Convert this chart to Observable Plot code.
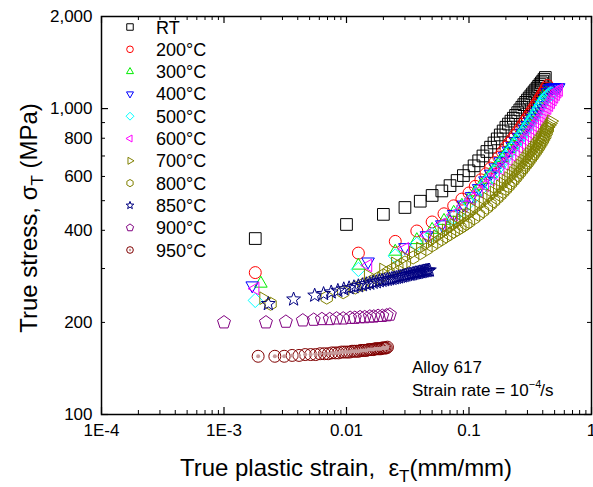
<!DOCTYPE html>
<html><head><meta charset="utf-8">
<script src="https://cdn.jsdelivr.net/npm/d3@7"></script>
<script src="https://cdn.jsdelivr.net/npm/@observablehq/plot@0.6"></script>
<style>
body{margin:0;background:#fff}
svg{font-family:"Liberation Sans",Arial,sans-serif}
</style>
</head><body><div id="chart"></div>
<script>
// ---------- data ----------
const seriesNames = ["RT","200°C","300°C","400°C","500°C","600°C","700°C","800°C","850°C","900°C","950°C"];
const seriesColors = ["#000000","#ff0000","#00ee00","#0000ff","#00ffff","#ff00ff","#808000","#808000","#000080","#800080","#800000"];

const xTickValues = [1e-4, 1e-3, 0.01, 0.1, 1];
const xTickLabels = ["1E-4", "1E-3", "0.01", "0.1", "1"];
const yTickValues = [100, 200, 400, 600, 800, 1000, 2000];
const yTickLabels = ["100", "200", "400", "600", "800", "1,000", "2,000"];

const strainRT = [0.0018,0.01,0.02,0.03,0.04,0.05,0.06,0.07,0.08,0.09,0.10,0.11,0.12,0.13,0.14,0.15,0.16,0.17,0.18,0.19,0.20,0.21,0.22,0.23,0.24,0.25,0.26,0.27,0.28,0.29,0.30,0.31,0.32,0.33,0.34,0.35,0.36,0.37,0.38,0.39,0.40,0.41,0.42];
const stressRT = [376,418,451,475,498,520,538,560,582,604,626,650,675,700,724,748,772,796,820,845,869,890,910,930,950,970,990,1010,1030,1048,1066,1083,1100,1117,1134,1150,1166,1182,1198,1214,1230,1247,1264];

const strain200 = [0.0018,0.0125,0.025,0.0375,0.05,0.0625,0.075,0.0875,0.1,0.1125,0.125,0.1375,0.15,0.1625,0.175,0.1875,0.2,0.2125,0.225,0.2375,0.25,0.2625,0.275,0.2875,0.3,0.3125,0.325,0.3375,0.35,0.3625,0.375,0.3875,0.4,0.4125,0.425,0.4375];
const stress200 = [291,337,368,398,426,453,481,506,530,557,585,612,639,666,694,721,748,771,794,818,841,864,888,911,934,957,981,1004,1027,1050,1074,1097,1120,1143,1167,1190];

const strain300 = [0.002,0.0125,0.025,0.0375,0.05,0.0625,0.075,0.0875,0.1,0.1125,0.125,0.1375,0.15,0.1625,0.175,0.1875,0.2,0.2125,0.225,0.2375,0.25,0.2625,0.275,0.2875,0.3,0.3125,0.325,0.3375,0.35,0.3625,0.375,0.3875,0.4,0.4125,0.425];
const stress300 = [268,307,341,372,402,430,457,482,506,533,560,586,612,638,664,690,716,739,762,785,808,831,854,877,900,923,946,969,992,1015,1038,1061,1084,1107,1130];

const strain400 = [0.0017,0.015,0.03,0.045,0.06,0.075,0.09,0.105,0.12,0.135,0.15,0.165,0.18,0.195,0.21,0.225,0.24,0.255,0.27,0.285,0.3,0.315,0.33,0.345,0.36,0.375,0.39,0.405,0.42,0.435,0.45,0.465,0.48,0.495,0.51,0.525,0.54];
const stress400 = [264,316,352,385,418,452,485,517,549,582,612,642,672,700,728,755,782,808,834,858,882,906,930,954,978,1002,1026,1052,1085,1130,1160,1168,1170,1172,1172,1173,1173];

const strain500 = [0.0018,0.0125,0.025,0.0375,0.05,0.0625,0.075,0.0875,0.1,0.1125,0.125,0.1375,0.15,0.1625,0.175,0.1875,0.2,0.2125,0.225,0.2375,0.25,0.2625,0.275,0.2875,0.3,0.3125,0.325,0.3375,0.35,0.3625,0.375,0.3875,0.4,0.4125,0.425,0.4375,0.45,0.4625,0.475];
const stress500 = [236,298,330,360,388,415,442,468,494,520,546,571,596,620,644,668,692,715,738,761,784,806,828,850,872,894,916,938,960,982,1004,1026,1048,1068,1086,1100,1110,1115,1118];

const strain600 = [0.0018,0.015,0.03,0.045,0.06,0.075,0.09,0.105,0.12,0.135,0.15,0.165,0.18,0.195,0.21,0.225,0.24,0.255,0.27,0.285,0.3,0.315,0.33,0.345,0.36,0.375,0.39,0.405,0.42,0.435,0.45,0.465,0.48,0.495,0.51,0.525,0.54];
const stress600 = [258,307,348,385,418,450,480,508,535,561,586,611,635,659,682,705,727,749,771,792,813,834,855,876,897,918,939,960,982,1004,1026,1048,1070,1092,1114,1135,1150];

const strain700 = [0.0021,0.015,0.02,0.025,0.03,0.035,0.04,0.045,0.05,0.055,0.06,0.065,0.07,0.075,0.08,0.085,0.09,0.095,0.1,0.11,0.12,0.13,0.14,0.15,0.16,0.17,0.18,0.19,0.2,0.21,0.22,0.23,0.24,0.25,0.26,0.27,0.28,0.29,0.3,0.31,0.32,0.33,0.34,0.35,0.36,0.37,0.38,0.39,0.4,0.41,0.42,0.43,0.44,0.45,0.46,0.47];
const stress700 = [240,285,298,312,326,338,349,360,371,382,391,400,409,417,425,433,440,447,454,468,482,495,508,520,532,545,557,569,581,593,605,617,629,641,653,665,677,689,700,712,723,735,747,759,771,783,795,807,820,833,846,858,870,882,894,910];

const strain800 = [0.0024,0.0069,0.0094,0.0118,0.0137,0.016,0.018,0.02,0.022,0.024,0.026,0.028,0.03,0.035,0.04,0.045,0.05,0.055,0.06,0.065,0.07,0.075,0.08,0.085,0.09,0.095,0.1,0.11,0.12,0.13,0.14,0.15,0.16,0.17,0.18,0.19,0.2,0.21,0.22,0.23,0.24,0.25,0.26,0.27,0.28,0.29,0.3,0.31,0.32,0.33,0.34,0.35,0.36,0.37,0.38,0.39,0.4,0.41,0.42,0.43,0.44];
const stress800 = [230,241,251,260,266,272,278,285,292,298,304,309,314,326,337,347,357,366,374,382,389,396,402,408,414,420,426,438,450,462,474,486,498,510,522,534,546,558,570,582,594,606,618,630,642,654,665,677,689,701,713,725,737,750,763,776,790,805,820,840,860];

const strain850 = [0.0023,0.0037,0.0055,0.0065,0.0075,0.0085,0.0095,0.0105,0.0115,0.0125,0.0135,0.0145,0.0155,0.0165,0.0175,0.0185,0.0195,0.0205,0.0215,0.0225,0.0235,0.0245,0.0255,0.0265,0.0275,0.0285,0.0295,0.0305,0.0315,0.0325,0.0335,0.0345,0.0355,0.0365,0.0375,0.0385,0.0395,0.0405,0.0415,0.0425,0.0435,0.0445,0.0455,0.0465,0.0475];
const stress850 = [230,238,245,248,251,254,257,259,261,263,265,267,268,270,271,273,274,275,276,277,278,279,280,281,282,283,284,285,286,287,287,288,289,290,290,291,292,292,293,294,294,295,295,296,296];

const strain900 = [0.001,0.0022,0.0032,0.0044,0.0054,0.0063,0.0073,0.0083,0.0094,0.0107,0.0117,0.0129,0.0141,0.0155,0.0167,0.0181,0.0196,0.0213,0.0226];
const stress900 = [200,200,201,203,204,205,205,206,206,207,207,208,208,209,209,210,210,211,212];

const strain950 = [0.0019,0.0026,0.0031,0.0036,0.0041,0.0046,0.0051,0.0056,0.0061,0.0066,0.0071,0.0076,0.0081,0.0086,0.0091,0.0096,0.0101,0.0106,0.0111,0.0116,0.0121,0.0126,0.0131,0.0136,0.0141,0.0146,0.0151,0.0156,0.0161,0.0166,0.0171,0.0176,0.0181,0.0186,0.0191,0.0196,0.0201,0.0206,0.0211,0.0216];
const stress950 = [155,155,155,156,156,157,157,157,158,158,158,159,159,159,160,160,160,160,161,161,161,161,162,162,162,162,163,163,163,163,164,164,164,164,164,165,165,165,165,166];

// ---------- symbols ----------
function ngon(c, n, r, a0) {
  for (let k = 0; k < n; k++) {
    const a = a0 + k * 2 * Math.PI / n;
    const px = r * Math.cos(a), py = r * Math.sin(a);
    if (k === 0) c.moveTo(px, py); else c.lineTo(px, py);
  }
  c.closePath();
}
const rad = s => Math.sqrt(s / Math.PI);
const D = Math.PI / 180;
const symSquare = {draw(c, s) { const r = rad(s) * 0.9; c.rect(-r, -r, 2 * r, 2 * r); }};
const symCircle = {draw(c, s) { const r = rad(s) * 0.92; c.moveTo(r, 0); c.arc(0, 0, r, 0, 2 * Math.PI); }};
const symUp = {draw(c, s) { ngon(c, 3, rad(s) * 1.12, -90 * D); }};
const symDown = {draw(c, s) { ngon(c, 3, rad(s) * 1.12, 90 * D); }};
const symLeft = {draw(c, s) { ngon(c, 3, rad(s) * 1.12, 180 * D); }};
const symRight = {draw(c, s) { ngon(c, 3, rad(s) * 1.12, 0); }};
const symDiamond = {draw(c, s) { ngon(c, 4, rad(s) * 1.1, -90 * D); }};
const symHex = {draw(c, s) { ngon(c, 6, rad(s) * 1.0, -90 * D); }};
const symPent = {draw(c, s) { ngon(c, 5, rad(s) * 1.05, -90 * D); }};
const symStar = {draw(c, s) {
  const R = rad(s) * 1.12, r = R * 0.42;
  for (let k = 0; k < 10; k++) {
    const a = -90 * D + k * Math.PI / 5, rr = k % 2 ? r : R;
    if (k === 0) c.moveTo(rr * Math.cos(a), rr * Math.sin(a)); else c.lineTo(rr * Math.cos(a), rr * Math.sin(a));
  }
  c.closePath();
}};
const seriesSymbols = [symSquare, symCircle, symUp, symDown, symDiamond, symLeft, symRight, symHex, symStar, symPent, symCircle];

const strains = [strainRT, strain200, strain300, strain400, strain500, strain600, strain700, strain800, strain850, strain900, strain950];
const stresses = [stressRT, stress200, stress300, stress400, stress500, stress600, stress700, stress800, stress850, stress900, stress950];
const tables = strains.map((xs, s) => xs.map((x, i) => ({x, y: stresses[s][i]})).filter(d => d.y != null));

// ---------- layout ----------
const W = 593, H = 487, mL = 101, mR = 2, mT = 16, mB = 73;
const plotH = H - mT - mB, plotW = W - mL - mR;
const xMinor = [];
for (const dec of [1e-4, 1e-3, 1e-2, 1e-1]) for (let m = 2; m <= 9; m++) xMinor.push(dec * m);
const yMinor = [300, 500, 700, 900];
const yMid = [200, 400, 600, 800, 2000];
const yMajor = [100, 1000];

const marks = [
  Plot.ruleX(xTickValues, {x: d => d, insetTop: plotH - 7, strokeWidth: 1.2}),
  Plot.ruleX(xTickValues, {x: d => d, insetBottom: plotH - 7, strokeWidth: 1.2}),
  Plot.ruleX(xMinor, {x: d => d, insetTop: plotH - 4, strokeWidth: 1}),
  Plot.ruleX(xMinor, {x: d => d, insetBottom: plotH - 4, strokeWidth: 1}),
  Plot.ruleY(yMajor, {y: d => d, insetRight: plotW - 7, strokeWidth: 1.2}),
  Plot.ruleY(yMajor, {y: d => d, insetLeft: plotW - 7, strokeWidth: 1.2}),
  Plot.ruleY(yMid.concat(yMinor), {y: d => d, insetRight: plotW - 4, strokeWidth: 1}),
  Plot.ruleY(yMid.concat(yMinor), {y: d => d, insetLeft: plotW - 4, strokeWidth: 1}),
  Plot.axisX({ticks: xTickValues, tickFormat: d => xTickLabels[xTickValues.indexOf(d)], tickSize: 0, tickPadding: 9, label: null, fontSize: 17}),
  Plot.axisY({ticks: yTickValues, tickFormat: d => yTickLabels[yTickValues.indexOf(d)], tickSize: 0, tickPadding: 9, label: null, fontSize: 17}),
  Plot.frame({stroke: "black", strokeWidth: 1.5})
];
tables.forEach((t, s) => {
  marks.push(Plot.dot(t, {x: "x", y: "y", symbol: seriesSymbols[s], r: 6.5, stroke: seriesColors[s], fill: "none", strokeWidth: 1}));
});
marks.push(Plot.dot(tables[10], {x: "x", y: "y", r: 2, fill: "#c79a9a", stroke: "none"}));

const svgEl = Plot.plot({
  width: W, height: H, marginLeft: mL, marginRight: mR, marginTop: mT, marginBottom: mB,
  x: {type: "log", domain: [1e-4, 1]},
  y: {type: "log", domain: [100, 2000]},
  style: {fontFamily: "'Liberation Sans', Arial, sans-serif", fontSize: "17px", color: "black", background: "white"},
  marks
});
document.getElementById("chart").appendChild(svgEl);

// ---------- legend, titles, annotation ----------
const svg = d3.select(svgEl);
const lg = svg.append("g").attr("font-family", "'Liberation Sans', Arial, sans-serif").attr("font-size", 18).attr("text-anchor", "start");
seriesNames.forEach((name, s) => {
  const yy = 27 + s * 22.3;
  lg.append("path").attr("d", d3.symbol(seriesSymbols[s], Math.PI * 13)())
    .attr("transform", `translate(130,${yy})`).attr("fill", "none").attr("stroke", seriesColors[s]).attr("stroke-width", 1);
  if (s === 10) lg.append("circle").attr("cx", 130).attr("cy", yy).attr("r", 1.2).attr("fill", "#c79a9a");
  lg.append("text").attr("x", 156).attr("y", yy + 6.5).text(name);
});

const tg = svg.append("g").attr("font-family", "'Liberation Sans', Arial, sans-serif").attr("fill", "black");
const yt = tg.append("text").attr("transform", "translate(37,218) rotate(-90)").attr("text-anchor", "middle").attr("font-size", 24);
yt.append("tspan").text("True stress, σ");
yt.append("tspan").attr("dy", 6).attr("font-size", 17).text("T");
yt.append("tspan").attr("dy", -6).text(" (MPa)");

const xt = tg.append("text").attr("x", 346).attr("y", 476).attr("text-anchor", "middle").attr("font-size", 24);
xt.append("tspan").text("True plastic strain,  ε");
xt.append("tspan").attr("dy", 6).attr("font-size", 17).text("T");
xt.append("tspan").attr("dy", -6).text("(mm/mm)");

tg.append("text").attr("x", 412).attr("y", 373).attr("font-size", 17).attr("text-anchor", "start").text("Alloy 617");
const sr = tg.append("text").attr("x", 412).attr("y", 396).attr("font-size", 17).attr("text-anchor", "start");
sr.append("tspan").text("Strain rate = 10");
sr.append("tspan").attr("dy", -8).attr("font-size", 11).text("−4");
sr.append("tspan").attr("dy", 8).attr("dx", -1).text("/s");
</script></body></html>
